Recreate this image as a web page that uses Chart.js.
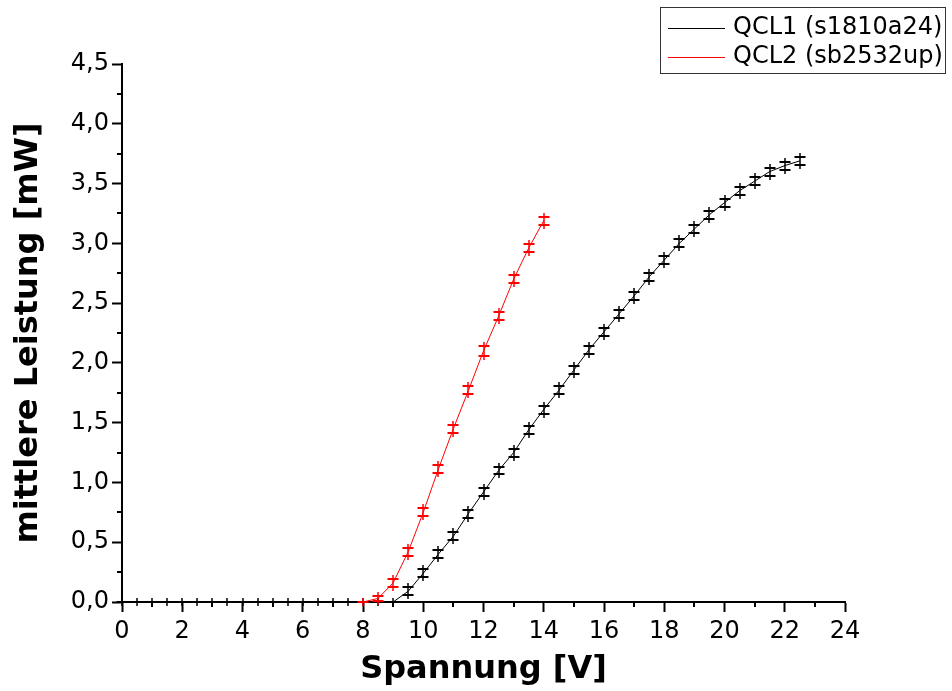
<!DOCTYPE html>
<html>
<head>
<meta charset="utf-8">
<title>Leistung vs. Spannung</title>
<script src="https://cdn.jsdelivr.net/npm/chart.js@4.4.1/dist/chart.umd.min.js"></script>
<style>
  html, body { margin: 0; padding: 0; background: #fff; }
  #wrap { width: 952px; height: 691px; }
</style>
</head>
<body>
<div id="wrap"><canvas id="powerChart" width="952" height="691"></canvas></div>
<script>
// Messdaten: Spannung [V] und mittlere Leistung [mW]
const voltageQCL1 = [0, 0.5, 1, 1.5, 2, 2.5, 3, 3.5, 4, 4.5, 5, 5.5, 6, 6.5, 7, 7.5, 8, 8.5, 9,
  9.5, 10, 10.5, 11, 11.5, 12, 12.5, 13, 13.5, 14, 14.5, 15, 15.5, 16, 16.5, 17, 17.5,
  18, 18.5, 19, 19.5, 20, 20.5, 21, 21.5, 22, 22.5];
const powerQCL1 = [0, 0, 0, 0, 0, 0, 0, 0, 0, 0, 0, 0, 0, 0, 0, 0, 0, 0, 0,
  0.09, 0.24, 0.40, 0.55, 0.74, 0.92, 1.10, 1.25, 1.44, 1.61, 1.77, 1.94, 2.11, 2.26, 2.41, 2.56, 2.72,
  2.86, 3.00, 3.12, 3.24, 3.34, 3.44, 3.52, 3.60, 3.65, 3.69];
// Messfehler der Leistung [mW]
const errQCL1 = [0, 0, 0, 0, 0, 0, 0, 0, 0, 0, 0, 0, 0, 0, 0, 0, 0, 0, 0,
  0.025, 0.025, 0.025, 0.025, 0.025, 0.025, 0.025, 0.025, 0.025, 0.025, 0.025, 0.025, 0.025, 0.025, 0.025, 0.025, 0.025,
  0.025, 0.025, 0.025, 0.025, 0.025, 0.025, 0.025, 0.025, 0.025, 0.025];

const voltageQCL2 = [8, 8.5, 9, 9.5, 10, 10.5, 11, 11.5, 12, 12.5, 13, 13.5, 14];
const powerQCL2 = [0, 0.03, 0.16, 0.42, 0.75, 1.11, 1.45, 1.77, 2.10, 2.39, 2.70, 2.96, 3.19];
const errQCL2 = [0, 0.01, 0.025, 0.025, 0.025, 0.025, 0.025, 0.025, 0.03, 0.025, 0.025, 0.025, 0.025];

const seriesLabels = ["QCL1 (s1810a24)", "QCL2 (sb2532up)"];
const seriesColors = ["#000000", "#ff0000"];

const xTicks = [0, 2, 4, 6, 8, 10, 12, 14, 16, 18, 20, 22, 24];
const yTicks = [0, 0.5, 1, 1.5, 2, 2.5, 3, 3.5, 4, 4.5];

const FONT = "'DejaVu Sans', sans-serif";

// Fehlerbalken mit Kappen
const errorBars = {
  id: "errorBars",
  afterDatasetsDraw(chart) {
    const ctx = chart.ctx;
    const yScale = chart.scales.y;
    chart.data.datasets.forEach((ds, i) => {
      const meta = chart.getDatasetMeta(i);
      ctx.save();
      ctx.strokeStyle = ds.borderColor;
      meta.data.forEach((pt, j) => {
        const v = ds.data[j].y;
        const e = ds.err[j];
        const gap = e > 0 ? 1 : 0;
        const top = Math.round(yScale.getPixelForValue(v + e)) - gap;
        const bot = Math.round(yScale.getPixelForValue(v - e)) + gap;
        const px = Math.round(pt.x);
        ctx.lineWidth = 1.5;
        ctx.beginPath();
        ctx.moveTo(px, top - 4);
        ctx.lineTo(px, bot + 4);
        ctx.stroke();
        ctx.lineWidth = 2;
        ctx.beginPath();
        ctx.moveTo(px - 5.5, top);
        ctx.lineTo(px + 5.5, top);
        ctx.moveTo(px - 5.5, bot);
        ctx.lineTo(px + 5.5, bot);
        ctx.stroke();
      });
      ctx.restore();
    });
  },
};

// Nebenstriche an den Achsen
const minorTicks = {
  id: "minorTicks",
  afterDraw(chart) {
    const ctx = chart.ctx;
    const { x, y } = chart.scales;
    ctx.save();
    ctx.strokeStyle = "#000";
    ctx.lineWidth = 2;
    ctx.beginPath();
    for (let v = 1; v < 24; v += 2) {
      const px = Math.round(x.getPixelForValue(v));
      ctx.moveTo(px, y.bottom);
      ctx.lineTo(px, y.bottom + 5);
    }
    for (let v = 0.25; v < 4.5; v += 0.5) {
      const py = Math.round(y.getPixelForValue(v));
      ctx.moveTo(x.left, py);
      ctx.lineTo(x.left - 5, py);
    }
    ctx.stroke();
    ctx.restore();
  },
};

// Legende oben rechts mit Rahmen
const boxLegend = {
  id: "boxLegend",
  afterDraw(chart) {
    const ctx = chart.ctx;
    const left = 660, top = 7, w = 285, h = 66;
    ctx.save();
    ctx.fillStyle = "#fff";
    ctx.fillRect(left, top, w, h);
    ctx.strokeStyle = "#333";
    ctx.lineWidth = 1;
    ctx.strokeRect(left + 0.5, top + 0.5, w, h);
    ctx.font = "24px " + FONT;
    ctx.textBaseline = "middle";
    chart.data.datasets.forEach((ds, i) => {
      const cy = top + 21 + i * 29;
      ctx.strokeStyle = ds.borderColor;
      ctx.lineWidth = 1;
      ctx.beginPath();
      ctx.moveTo(668, cy + 0.5);
      ctx.lineTo(725, cy + 0.5);
      ctx.stroke();
      ctx.fillStyle = "#000";
      ctx.fillText(ds.label, 733, cy);
    });
    ctx.restore();
  },
};

const toPoints = (xs, ys) => xs.map((v, i) => ({ x: v, y: ys[i] }));

new Chart(document.getElementById("powerChart"), {
  type: "line",
  data: {
    datasets: [
      {
        label: seriesLabels[0],
        data: toPoints(voltageQCL1, powerQCL1),
        err: errQCL1,
        borderColor: seriesColors[0],
        borderWidth: 1,
        pointRadius: 0,
        tension: 0,
      },
      {
        label: seriesLabels[1],
        data: toPoints(voltageQCL2, powerQCL2),
        err: errQCL2,
        borderColor: seriesColors[1],
        borderWidth: 1,
        pointRadius: 0,
        tension: 0,
      },
    ],
  },
  options: {
    responsive: false,
    animation: false,
    events: [],
    layout: { padding: { top: 64, right: 107, left: 0, bottom: 0 } },
    plugins: {
      legend: { display: false },
      tooltip: { enabled: false },
    },
    scales: {
      x: {
        type: "linear",
        min: 0,
        max: 24,
        afterBuildTicks: (s) => { s.ticks = xTicks.map((v) => ({ value: v })); },
        afterFit: (s) => { s.height = 89; },
        grid: { drawOnChartArea: false, tickLength: 10, tickWidth: 2, tickColor: "#000" },
        border: { color: "#000", width: 2 },
        ticks: { color: "#000", font: { family: FONT, size: 24 }, padding: 5, maxRotation: 0 },
        title: {
          display: true,
          text: "Spannung [V]",
          color: "#000",
          font: { family: FONT, size: 32, weight: "bold" },
          padding: { top: 0, bottom: 2 },
        },
      },
      y: {
        type: "linear",
        min: 0,
        max: 4.5,
        afterBuildTicks: (s) => { s.ticks = yTicks.map((v) => ({ value: v })); },
        afterFit: (s) => { s.width = 122; },
        grid: { drawOnChartArea: false, tickLength: 10, tickWidth: 2, tickColor: "#000" },
        border: { color: "#000", width: 2 },
        ticks: {
          color: "#000",
          font: { family: FONT, size: 24 },
          padding: 3,
          callback: (v) => v.toFixed(1).replace(".", ","),
        },
        title: {
          display: true,
          text: "mittlere Leistung [mW]",
          color: "#000",
          font: { family: FONT, size: 32, weight: "bold" },
          padding: { top: 9, bottom: 0 },
        },
      },
    },
  },
  plugins: [errorBars, minorTicks, boxLegend],
});
</script>
</body>
</html>
